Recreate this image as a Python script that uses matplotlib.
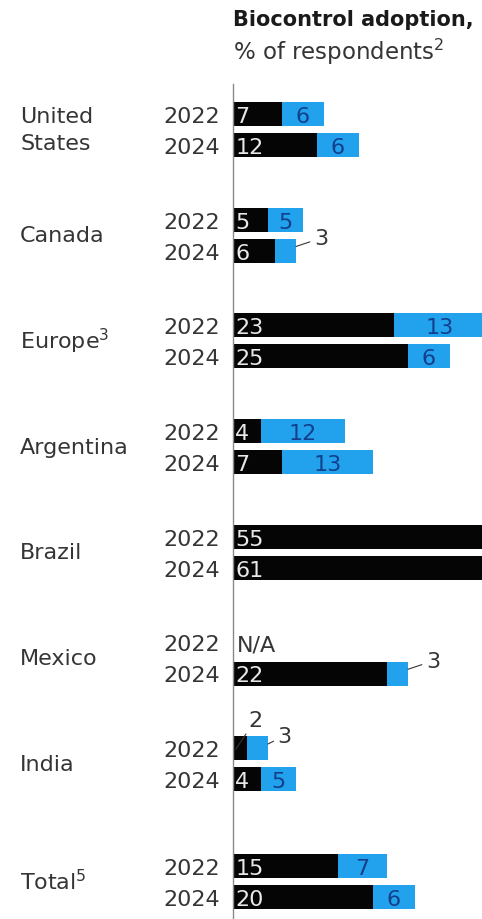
import numpy as np
import matplotlib.pyplot as plt
from matplotlib.transforms import blended_transform_factory

countries = ["United\nStates", "Canada", "Europe$^{3}$", "Argentina",
             "Brazil", "Mexico", "India", "Total$^{5}$"]
years = ["2022", "2024"]

# black = first share, blue = second share (% of respondents)
black_2022 = [7, 5, 23, 4, 55, np.nan, 2, 15]
blue_2022 = [6, 5, 13, 12, np.nan, np.nan, 3, 7]
black_2024 = [12, 6, 25, 7, 61, 22, 4, 20]
blue_2024 = [6, 3, 6, 13, np.nan, 3, 5, 6]

BLACK = "#050505"
BLUE = "#22a2ec"
TXT = "#353535"
NAVY = "#123f8c"

W, H = 482, 920
fig = plt.figure(figsize=(W / 100, H / 100), dpi=100)
ax = fig.add_axes([233 / W, 0, 249 / W, 835 / H])

unit = 105.7  # px between country groups
ax.set_xlim(0, 249 / 7)
ax.set_ylim(835 / unit - 45.5 / unit, -45.5 / unit)

# the total sits a little further down than the countries
ypos = np.arange(len(countries), dtype=float)
ypos[-1] += 0.11

off = 15.5 / unit
bh = 24 / unit
fs = 16

lab_tr = blended_transform_factory(fig.transFigure, ax.transData)

# labels drawn outside the bar (offset in points)
outside = {("Canada", 1, "blue"): (18, 6),
           ("Mexico", 1, "blue"): (18, 6),
           ("India", 0, "blue"): (12, 6),
           ("India", 0, "black"): (14, 21)}

for i, name in enumerate(countries):
    yc = ypos[i]
    ax.text(20 / W, yc, name, transform=lab_tr, ha="left", va="center",
            fontsize=fs, color=TXT, linespacing=1.38)
    key = name.split("$")[0]
    for j, (bl, bu) in enumerate([(black_2022[i], blue_2022[i]),
                                   (black_2024[i], blue_2024[i])]):
        y = yc - off if j == 0 else yc + off
        ax.text(220 / W, y, years[j], transform=lab_tr, ha="right",
                va="center_baseline", fontsize=fs, color=TXT)
        if np.isnan(bl):
            ax.text(0.5, y, "N/A", ha="left", va="center_baseline",
                    fontsize=fs, color=TXT)
            continue
        ax.barh(y, bl, height=bh, color=BLACK, linewidth=0)
        if (key, j, "black") in outside:
            dx, dy = outside[(key, j, "black")]
            ax.annotate(str(bl), xy=(0.4, y + 0.01), xytext=(dx, dy),
                        textcoords="offset points", ha="center",
                        va="center", fontsize=fs, color=TXT,
                        arrowprops=dict(arrowstyle="-", color=TXT, lw=0.8,
                                        shrinkA=1, shrinkB=0))
        else:
            ax.text(0.3, y, str(bl), ha="left", va="center_baseline",
                    fontsize=fs, color="#e8e8e8")
        if np.isnan(bu):
            continue
        ax.barh(y, bu, left=bl, height=bh, color=BLUE, linewidth=0)
        if (key, j, "blue") in outside:
            dx, dy = outside[(key, j, "blue")]
            ax.annotate(str(bu), xy=(bl + bu, y - 0.04), xytext=(dx, dy),
                        textcoords="offset points", ha="center",
                        va="center", fontsize=fs, color=TXT,
                        arrowprops=dict(arrowstyle="-", color=TXT, lw=0.8,
                                        shrinkA=1, shrinkB=0))
        else:
            ax.text(bl + bu / 2, y, str(bu), ha="center",
                    va="center_baseline", fontsize=fs, color=NAVY)

for s in ["top", "right", "bottom"]:
    ax.spines[s].set_visible(False)
ax.spines["left"].set_color("#8a8a8a")
ax.spines["left"].set_linewidth(1.0)
ax.set_xticks([])
ax.set_yticks([])

fig.text(233 / W, 1 - 20 / H, "Biocontrol adoption,", ha="left",
         va="center", fontsize=15, fontweight="bold", color="#1a1a1a")
fig.text(233 / W, 1 - 52 / H, "% of respondents$^{2}$", ha="left",
         va="center", fontsize=16.5, color=TXT)

fig.savefig("out.png", dpi=100)
